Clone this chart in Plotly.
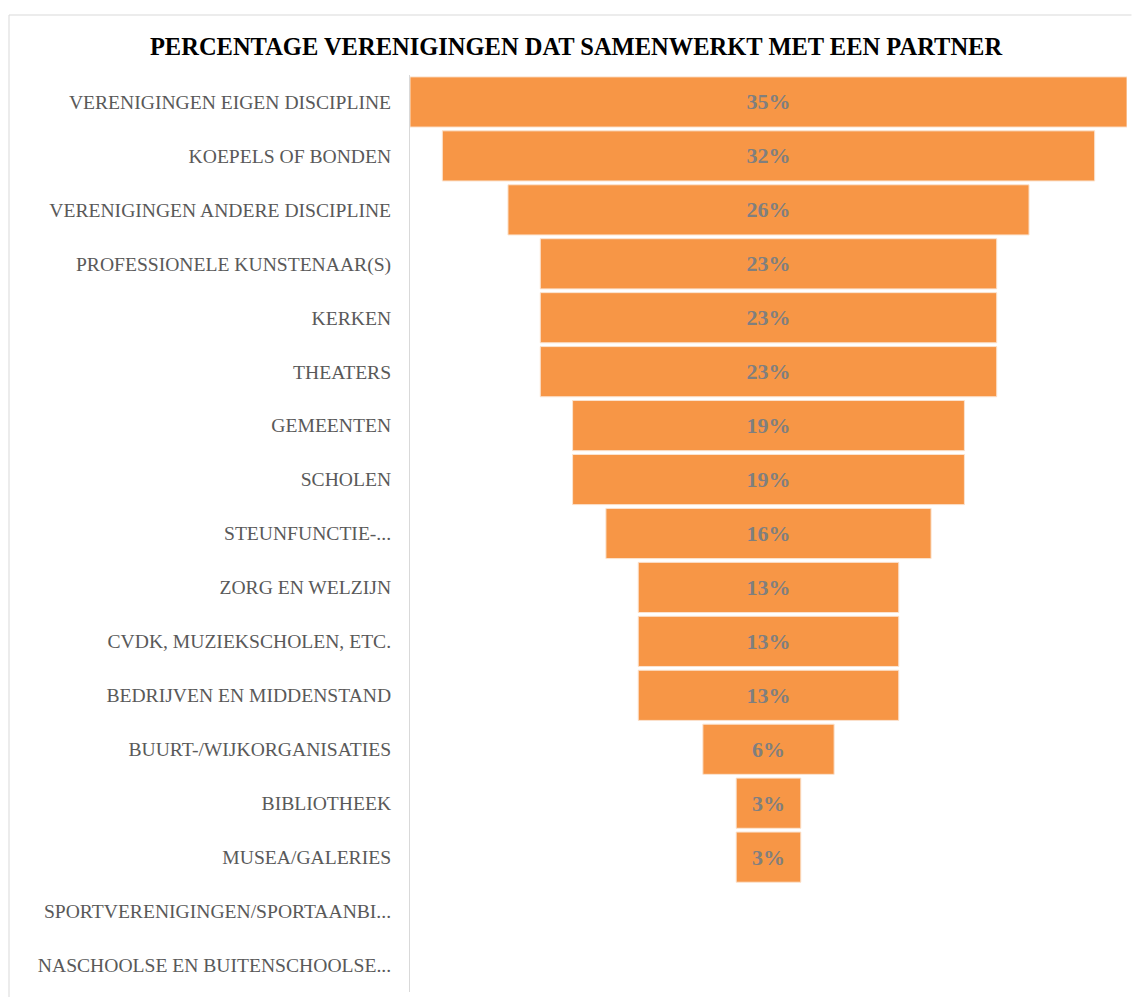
import plotly.graph_objects as go

categories = [
    "VERENIGINGEN EIGEN DISCIPLINE",
    "KOEPELS OF BONDEN",
    "VERENIGINGEN ANDERE DISCIPLINE",
    "PROFESSIONELE KUNSTENAAR(S)",
    "KERKEN",
    "THEATERS",
    "GEMEENTEN",
    "SCHOLEN",
    "STEUNFUNCTIE-...",
    "ZORG EN WELZIJN",
    "CVDK, MUZIEKSCHOLEN, ETC.",
    "BEDRIJVEN EN MIDDENSTAND",
    "BUURT-/WIJKORGANISATIES",
    "BIBLIOTHEEK",
    "MUSEA/GALERIES",
    "SPORTVERENIGINGEN/SPORTAANBI...",
    "NASCHOOLSE EN BUITENSCHOOLSE...",
]
values = [35.5, 32.3, 25.8, 22.6, 22.6, 22.6, 19.4, 19.4, 16.1, 12.9, 12.9, 12.9, 6.5, 3.2, 3.2, 0, 0]
labels = ["35%", "32%", "26%", "23%", "23%", "23%", "19%", "19%", "16%", "13%", "13%", "13%",
          "6%", "3%", "3%", "", ""]

W, H = 1132, 997
ML, MR, MT, MB = 410, 5, 75, 5
pw = W - ML - MR
ph = H - MT - MB

line_widths = [1 if v > 0 else 0 for v in values]

fig = go.Figure(go.Funnel(
    y=categories,
    x=values,
    text=labels,
    textinfo="text",
    textposition="inside",
    insidetextanchor="middle",
    insidetextfont=dict(family="Liberation Serif", size=22, color="#7f7f7f", weight="bold"),
    marker=dict(color="#F79646", line=dict(color="#FBE3CF", width=line_widths)),
    connector=dict(visible=False),
    hoverinfo="y+x",
))

half = max(values) / 2
fig.update_layout(
    width=W, height=H,
    margin=dict(l=ML, r=MR, t=MT, b=MB),
    paper_bgcolor="white", plot_bgcolor="white",
    showlegend=False,
    funnelgap=0.07,
    title=dict(
        text="<b>PERCENTAGE VERENIGINGEN DAT SAMENWERKT MET EEN PARTNER</b>",
        x=576 / W, xref="container", xanchor="center",
        y=1 - 46 / H, yref="container", yanchor="middle",
        font=dict(family="Liberation Serif", size=24.5, color="#000000"),
    ),
    xaxis=dict(visible=False, range=[-half, half], fixedrange=True),
    yaxis=dict(
        showline=True, linecolor="#d9d9d9", linewidth=1,
        ticks="", ticklabelstandoff=14,
        tickfont=dict(family="Liberation Serif", size=19.6, color="#595959"),
        showgrid=False, zeroline=False,
    ),
)

# outer chart border (top and left edges visible in the reference)
x_left = (9 - ML) / pw
x_right = (W - 0.5 - ML) / pw
y_top = (H - MB - 15) / ph
fig.add_shape(type="line", xref="paper", yref="paper", x0=x_left, x1=x_right, y0=y_top, y1=y_top,
              line=dict(color="#d9d9d9", width=1))
fig.add_shape(type="line", xref="paper", yref="paper", x0=x_left, x1=x_left, y0=y_top, y1=-0.01,
              line=dict(color="#d9d9d9", width=1))

fig.write_html("out.html", config={"displayModeBar": False},
               post_script="document.body.style.margin='0';")
